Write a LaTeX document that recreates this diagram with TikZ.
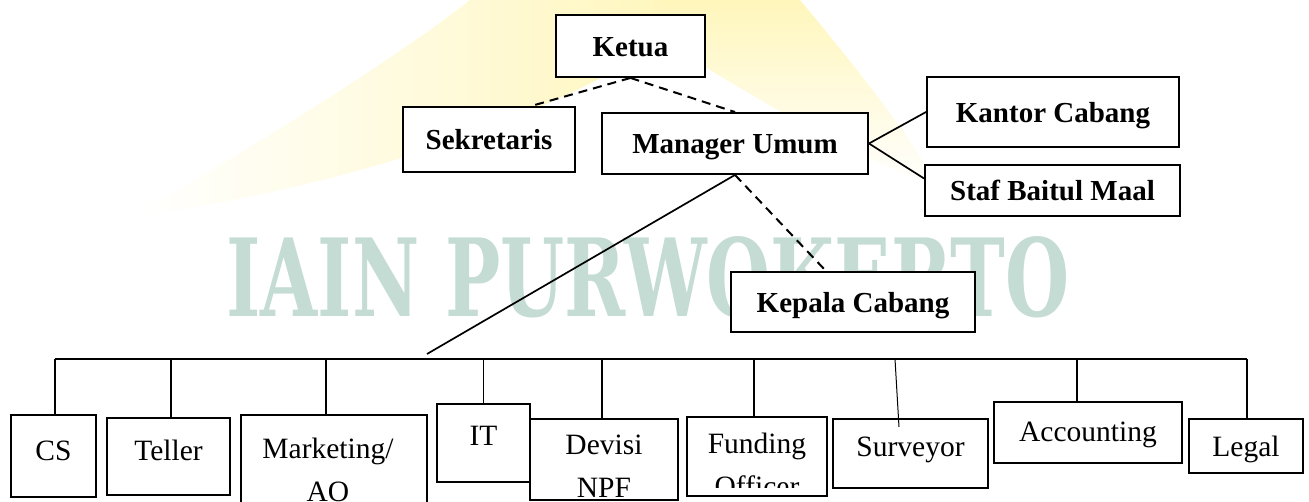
\documentclass[tikz,border=0pt]{standalone}
\usepackage{graphicx}
\usepackage{fontspec}
\setmainfont{Liberation Serif}
\newfontfamily\wmfont{DejaVu Serif}
\definecolor{wmgreen}{RGB}{196,220,211}
\definecolor{wmyellow}{RGB}{255,243,165}
\tikzset{
  headbox/.style={draw, fill=white, line width=1.9pt, inner sep=0pt,
    font=\fontsize{29}{34}\selectfont\bfseries, text height=21pt, text depth=0pt},
  unitbox/.style={draw, fill=white, line width=1.9pt, inner sep=0pt, anchor=north,
    font=\fontsize{29.5}{34}\selectfont},
  unittext/.style={anchor=base, inner sep=0pt, font=\fontsize{29.5}{34}\selectfont},
  dashlink/.style={line width=2pt, dash pattern=on 9pt off 6pt},
  link/.style={line width=1.7pt},
  thinlink/.style={line width=1pt},
}

\begin{document}
\begin{tikzpicture}[x=1pt,y=1pt]
\useasboundingbox (0,0) rectangle (1309,502);
\clip (0,0) rectangle (1309,502);
% watermark
\shade[left color=white, right color=wmyellow!80] (140,290) .. controls (300,382) and (420,462) .. (470,502) -- (720,502) .. controls (640,432) and (450,332) .. (140,286) -- cycle;
\shade[top color=wmyellow!75, bottom color=white] (660,502) -- (800,502) .. controls (850,442) and (900,380) .. (940,315) .. controls (860,340) and (760,402) .. (660,462) -- cycle;
\node[inner sep=0pt, text=wmgreen] (wm) at (648,225) {\resizebox{843pt}{80pt}{\wmfont\bfseries IAIN PURWOKERTO}};

\node[headbox, minimum width=149pt, minimum height=62pt] (ketua) at (630.5,456) {Ketua};
\node[headbox, minimum width=172pt, minimum height=65pt] (sekretaris) at (489,362.5) {Sekretaris};
\node[headbox, minimum width=266pt, minimum height=61pt] (manager) at (735,358.5) {Manager Umum};
\node[headbox, minimum width=252pt, minimum height=70pt] (kantor) at (1053,390) {Kantor Cabang};
\node[headbox, minimum width=255pt, minimum height=51pt] (staf) at (1052.5,311.5) {Staf Baitul Maal};
\node[headbox, minimum width=244pt, minimum height=60pt] (kepala) at (853,200) {Kepala Cabang};

\draw[dashlink] (ketua.south) -- ([xshift=42pt]sekretaris.north);
\draw[dashlink] (ketua.south) -- (manager.north);
\draw[link] (manager.east) -- (kantor.west);
\draw[link] (manager.east) -- ([yshift=12pt]staf.west);
\coordinate (hub) at (427,148);
\draw[link] (manager.south) -- (hub);
\draw[dashlink] (manager.south) -- ([xshift=-27pt]kepala.north);

\node[unitbox, minimum width=85pt, text height=46pt, text depth=36pt] (cs) at (53.5,88) {CS};
\node[unitbox, minimum width=123pt, text height=43pt, text depth=34pt] (teller) at (168.5,85) {Teller};
\node[unitbox, minimum width=186pt, minimum height=110pt] (marketing) at (334,88) {};
\node[unitbox, minimum width=93pt, text height=42pt, text depth=36pt] (it) at (483.5,99) {IT};
\node[unitbox, minimum width=148pt, minimum height=81pt] (devisi) at (604,84) {};
\node[unitbox, minimum width=140pt, minimum height=79pt] (funding) at (757,86) {};
\node[unitbox, minimum width=155pt, text height=38pt, text depth=31pt] (surveyor) at (910.5,84) {Surveyor};
\node[unitbox, minimum width=188pt, text height=40pt, text depth=21pt] (accounting) at (1088,101) {Accounting};
\node[unitbox, minimum width=114pt, text height=38pt, text depth=16pt] (legal) at (1246,84) {Legal};

\node[unittext] (marketingA) at ([xshift=-6pt,yshift=-45pt]marketing.north) {Marketing/};
\node[unittext] (marketingB) at ([xshift=-6pt,yshift=-88pt]marketing.north) {AO};
\begin{scope}
\clip ([yshift=2pt]devisi.south west) rectangle (devisi.north east);
\node[unittext] (devisiA) at ([yshift=-37pt]devisi.north) {Devisi};
\node[unittext] (devisiB) at ([yshift=-80pt]devisi.north) {NPF};
\end{scope}
\begin{scope}
\clip ([yshift=9pt]funding.south west) rectangle (funding.north east);
\node[unittext] (fundingA) at ([yshift=-38pt]funding.north) {Funding};
\node[unittext] (fundingB) at ([yshift=-81pt]funding.north) {Officer};
\end{scope}

\coordinate (busL) at (55,143);
\coordinate (busR) at (1247,143);
\draw[link] (busL) -- (busR);
\foreach \unit/\dx in {cs/1.5, teller/2.5, marketing/-8, devisi/-2, funding/-3, accounting/-11, legal/1}
  \draw[link] ([xshift=\dx pt]\unit.north) -- ([xshift=\dx pt]\unit.north |- busL);
\draw[thinlink] (it.north) -- (it.north |- busL);
\draw[thinlink] ([xshift=-11.5pt,yshift=-9pt]surveyor.north) -- ([xshift=-15.5pt]surveyor.north |- busL);
\end{tikzpicture}
\end{document}
